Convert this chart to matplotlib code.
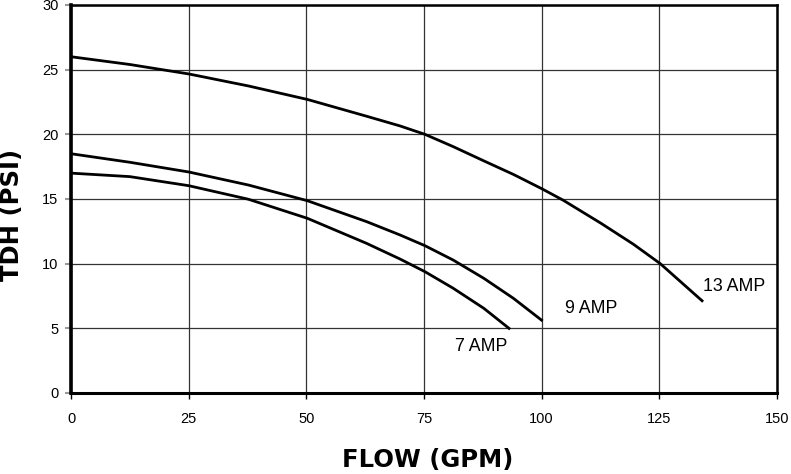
import matplotlib.pyplot as plt

# Pump curves (flow in GPM, head in PSI)
flow_13 = [0, 12.5, 25, 37.7, 50.2, 62.8, 69.9, 75.2, 81.2, 87.7, 94.0, 100.0,
           104.6, 112.7, 119.5, 125.2, 134.3]
tdh_13 = [26.0, 25.4, 24.67, 23.74, 22.7, 21.4, 20.65, 20.0, 19.05, 17.95, 16.9, 15.8,
          14.9, 13.1, 11.5, 10.0, 7.06]

flow_9 = [0, 12.5, 25, 37.7, 50.2, 62.8, 69.9, 75.2, 81.2, 87.7, 94.0, 100.2]
tdh_9 = [18.5, 17.84, 17.09, 16.08, 14.87, 13.25, 12.22, 11.39, 10.28, 8.87, 7.32, 5.57]

flow_7 = [0, 12.5, 25, 37.7, 50.2, 62.8, 69.9, 75.2, 81.2, 87.7, 93.3]
tdh_7 = [17.0, 16.73, 16.03, 14.98, 13.51, 11.57, 10.36, 9.38, 8.1, 6.55, 4.93]

curve_labels = ["13 AMP", "9 AMP", "7 AMP"]
label_pos = [(134.3, 8.2), (105.0, 6.5), (81.6, 3.6)]

x_ticks = [0, 25, 50, 75, 100, 125, 150]
y_ticks = [0, 5, 10, 15, 20, 25, 30]

plt.rcParams['font.family'] = ['Liberation Sans', 'DejaVu Sans']

fig = plt.figure(figsize=(7.91, 4.74), dpi=100)
ax = fig.add_axes([71 / 791, 81 / 474, 706 / 791, 388 / 474])

ax.set_xlim(0, 150)
ax.set_ylim(0, 30)
ax.set_xticks(x_ticks)
ax.set_yticks(y_ticks)
ax.grid(True, color='#333333', linewidth=0.9)
ax.set_axisbelow(True)

for fx, fy in [(flow_13, tdh_13), (flow_9, tdh_9), (flow_7, tdh_7)]:
    ax.plot(fx, fy, color='black', linewidth=2.0, solid_capstyle='butt',
            solid_joinstyle='round')

for text, (tx, ty) in zip(curve_labels, label_pos):
    ax.text(tx, ty, text, fontsize=12.8, va='center', ha='left')

for side, lw in [('left', 2.6), ('bottom', 2.2), ('top', 1.8), ('right', 1.8)]:
    ax.spines[side].set_linewidth(lw)
    ax.spines[side].set_color('black')

ax.tick_params(axis='y', length=4, width=1.5, color='#999999', pad=5, labelsize=10.5)
ax.tick_params(axis='x', length=4, width=1.0, color='black', pad=10, labelsize=10.5)

fig.text(12 / 791, 1 - 215 / 474, "TDH (PSI)", rotation=90, ha='center', va='center',
         fontsize=17.5, fontweight='bold', family='DejaVu Sans')
fig.text(428 / 791, 1 - 460 / 474, "FLOW (GPM)", ha='center', va='center',
         fontsize=17.5, fontweight='bold', family='DejaVu Sans')

fig.savefig('out.png', dpi=100)
